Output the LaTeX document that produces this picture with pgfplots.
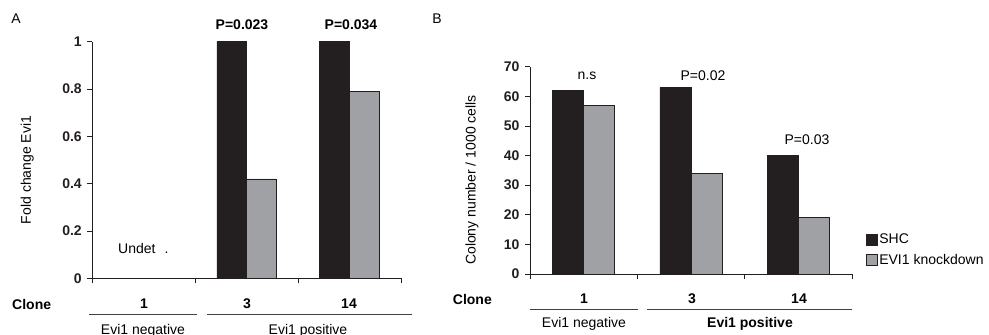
\documentclass[border=0pt]{standalone}
\usepackage{pgfplots}
\pgfplotsset{compat=1.18}
\usepackage{fontspec}
\setmainfont{Liberation Sans}
\definecolor{barblack}{HTML}{231F20}
\definecolor{bargray}{HTML}{A0A1A5}
\newcommand{\fs}{\fontsize{14}{17}\selectfont}
\begin{document}
\begin{tikzpicture}[x=1pt,y=1pt]
\useasboundingbox (0,0) rectangle (989,335);
\pgfplotsset{
 panel/.style={
  scale only axis, anchor=south west,
  xmin=0, xmax=3, xtick={0,1,2,3}, xticklabels={},
  axis x line*=bottom, axis y line*=left,
  axis line style={-, draw=barblack, line width=0.8pt},
  major tick length=5pt, tick align=outside,
  every tick/.style={draw=barblack, line width=0.8pt},
  ybar=0pt, bar width=0.29,
  yticklabel style={font=\fs\bfseries, color=barblack, xshift=-2pt},
  /pgf/number format/assume math mode=true,
  clip=false,
 },
 blackbar/.style={fill=barblack, draw=barblack, line width=0.6pt},
 graybar/.style={fill=bargray, draw=barblack, line width=0.6pt},
}
% ---------- Panel A ----------
\begin{axis}[panel, at={(92.3pt,56.7pt)}, width=308.7pt, height=236.6pt,
  ymin=0, ymax=1, ytick={0,0.2,0.4,0.6,0.8,1}, yticklabels={0,0.2,0.4,0.6,0.8,1}]
\addplot[blackbar] coordinates {(1.5,1) (2.5,1)};
\addplot[graybar] coordinates {(1.5,0.42) (2.5,0.79)};
\end{axis}
\node[font=\fs] at (16,316) {A};
\node[font=\fs\bfseries] at (242,310) {P=0.023};
\node[font=\fs\bfseries] at (351,310) {P=0.034};
\node[font=\fs, anchor=west, inner sep=0pt] at (118,87) {Undet\hspace{9pt}.};
\node[font=\fs, rotate=90] at (27.3,165) {Fold change Evi1};
\node[font=\fs\bfseries, anchor=west, inner sep=0pt] at (12,31) {Clone};
\node[font=\fs\bfseries] at (144,31) {1};
\node[font=\fs\bfseries] at (247,31) {3};
\node[font=\fs\bfseries] at (349,31) {14};
\draw[barblack!85, line width=1pt] (89,20.7) -- (197,20.7);
\draw[barblack!85, line width=1pt] (207,20.7) -- (412,20.7);
\node[font=\fs, anchor=base] at (143,0) {Evi1 negative};
\node[font=\fs, anchor=base] at (308,0) {Evi1 positive};
% ---------- Panel B ----------
\begin{axis}[panel, at={(530pt,61pt)}, width=322pt, height=207.3pt,
  ymin=0, ymax=70, ytick={0,10,20,30,40,50,60,70}, yticklabels={0,10,20,30,40,50,60,70},
  legend style={at={(1.0435,0.116)}, anchor=west, draw=none, fill=none, inner sep=0pt,
    row sep=6pt, font=\fs, legend cell align=left,
    nodes={inner sep=1.5pt}},
  legend image code/.code={\draw[#1,/tikz/.cd] (0pt,-5.5pt) rectangle (11pt,5.5pt);}]
\addplot[blackbar] coordinates {(0.5,62) (1.5,63) (2.5,40)};
\addlegendentry{SHC}
\addplot[graybar] coordinates {(0.5,57) (1.5,34) (2.5,19)};
\addlegendentry{EVI1 knockdown}
\end{axis}
\node[font=\fs] at (437,316) {B};
\node[font=\fs] at (587,259) {n.s};
\node[font=\fs] at (703,259) {P=0.02};
\node[font=\fs] at (807,195) {P=0.03};
\node[font=\fs, rotate=90] at (472,155) {Colony number / 1000 cells};
\node[font=\fs\bfseries, anchor=west, inner sep=0pt] at (452.7,36) {Clone};
\node[font=\fs\bfseries] at (584,36) {1};
\node[font=\fs\bfseries] at (692,36) {3};
\node[font=\fs\bfseries] at (799,36) {14};
\draw[barblack!85, line width=1pt] (530,25.7) -- (637.7,25.7);
\draw[barblack!85, line width=1pt] (647,25.7) -- (852,25.7);
\node[font=\fs] at (584,11) {Evi1 negative};
\node[font=\fs\bfseries] at (750,11) {Evi1 positive};
\end{tikzpicture}
\end{document}
